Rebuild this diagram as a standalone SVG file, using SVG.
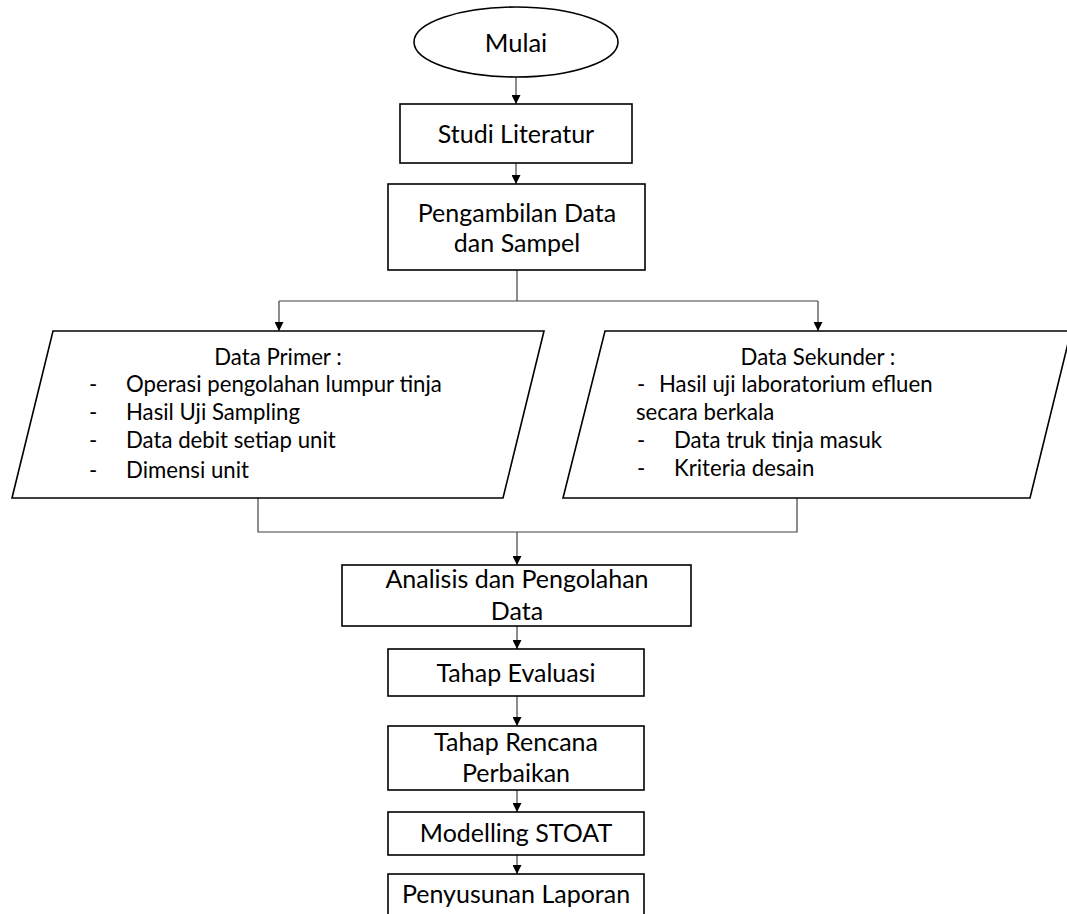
<svg xmlns="http://www.w3.org/2000/svg" width="1067" height="914" viewBox="0 0 1067 914">
<defs>
<style>
.shape{fill:#fff;stroke:#000;stroke-width:1.6}
.t{font-family:Lato,"Liberation Sans",sans-serif;fill:#000;font-size:25px;text-anchor:middle}
.s{font-family:Lato,"Liberation Sans",sans-serif;fill:#000;font-size:22.2px}
.c{fill:none;stroke:#404040;stroke-width:1.2}
</style>
<marker id="ah" viewBox="0 0 10 10" refX="10" refY="5" markerWidth="9" markerHeight="9" markerUnits="userSpaceOnUse" orient="auto">
<path d="M0,0 L10,5 L0,10 z" fill="#000"/>
</marker>
</defs>
<rect width="1067" height="914" fill="#fff"/>
<g id="connectors">
<path class="c" d="M516,77 V104" marker-end="url(#ah)"/>
<path class="c" d="M516,163 V184" marker-end="url(#ah)"/>
<path class="c" d="M517,270 V301"/>
<path class="c" d="M279,301 H818"/>
<path class="c" d="M279,301 V331" marker-end="url(#ah)"/>
<path class="c" d="M818,301 V331" marker-end="url(#ah)"/>
<path class="c" d="M258,498 V532 H797 V498"/>
<path class="c" d="M517,532 V565" marker-end="url(#ah)"/>
<path class="c" d="M517,626 V649" marker-end="url(#ah)"/>
<path class="c" d="M517,696 V726" marker-end="url(#ah)"/>
<path class="c" d="M517,790 V812" marker-end="url(#ah)"/>
<path class="c" d="M517,855 V874" marker-end="url(#ah)"/>
</g>
<g id="mulai">
<ellipse class="shape" cx="516" cy="42" rx="102" ry="35"/>
<text class="t" x="516" y="52" style="font-size:25.5px">Mulai</text>
</g>
<g id="studi">
<rect class="shape" x="400" y="104" width="232" height="59"/>
<text class="t" x="516" y="143">Studi Literatur</text>
</g>
<g id="pengambilan">
<rect class="shape" x="388" y="184" width="257" height="86"/>
<text class="t" x="517" y="222">Pengambilan Data</text>
<text class="t" x="517" y="252">dan Sampel</text>
</g>
<g id="primer">
<polygon class="shape" points="53,331 544,331 503,498 12,498"/>
<text class="s" x="278" y="365" text-anchor="middle">Data Primer :</text>
<text class="s" x="89" y="392">-</text><text class="s" x="126" y="392">Operasi pengolahan lumpur tinja</text>
<text class="s" x="89" y="420">-</text><text class="s" x="126" y="420">Hasil Uji Sampling</text>
<text class="s" x="89" y="448">-</text><text class="s" x="126" y="448">Data debit setiap unit</text>
<text class="s" x="89" y="478">-</text><text class="s" x="126" y="478">Dimensi unit</text>
</g>
<g id="sekunder">
<polygon class="shape" points="605,331 1071,331 1030,498 563,498"/>
<text class="s" x="818" y="365" text-anchor="middle">Data Sekunder :</text>
<text class="s" x="637" y="392">-</text><text class="s" x="659" y="392">Hasil uji laboratorium efluen</text>
<text class="s" x="636" y="420">secara berkala</text>
<text class="s" x="637" y="448">-</text><text class="s" x="674" y="448">Data truk tinja masuk</text>
<text class="s" x="637" y="476">-</text><text class="s" x="674" y="476">Kriteria desain</text>
</g>
<g id="analisis">
<rect class="shape" x="342" y="565" width="349" height="61"/>
<text class="t" x="517" y="588">Analisis dan Pengolahan</text>
<text class="t" x="517" y="620">Data</text>
</g>
<g id="evaluasi">
<rect class="shape" x="388" y="649" width="256" height="47"/>
<text class="t" x="516" y="682">Tahap Evaluasi</text>
</g>
<g id="rencana">
<rect class="shape" x="388" y="726" width="256" height="64"/>
<text class="t" x="516" y="751">Tahap Rencana</text>
<text class="t" x="516" y="782">Perbaikan</text>
</g>
<g id="modelling">
<rect class="shape" x="388" y="812" width="256" height="43"/>
<text class="t" x="516" y="842">Modelling STOAT</text>
</g>
<g id="penyusunan">
<rect class="shape" x="388" y="874" width="256" height="60"/>
<text class="t" x="516" y="903">Penyusunan Laporan</text>
</g>
</svg>
